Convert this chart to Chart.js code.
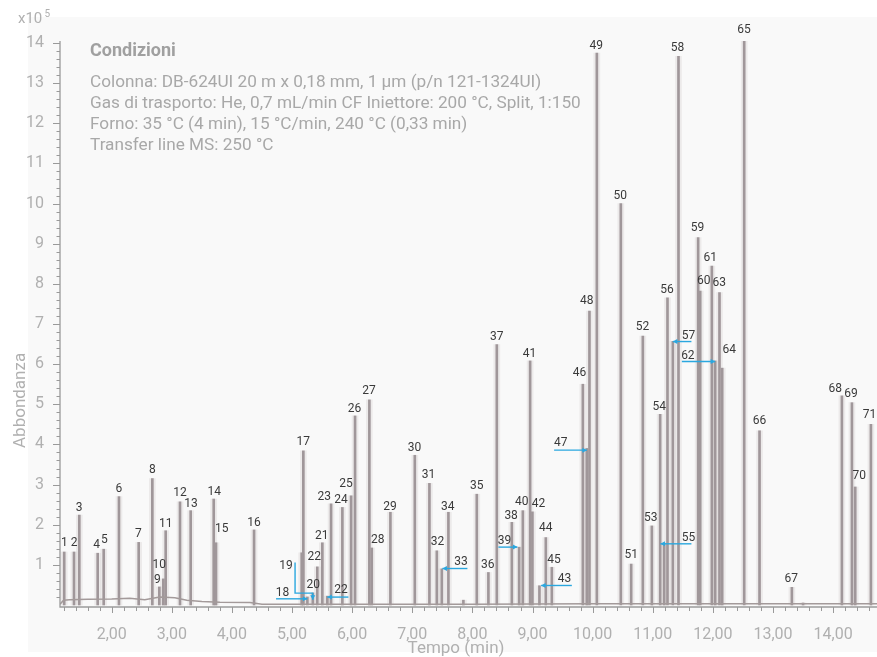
<!DOCTYPE html>
<html><head><meta charset="utf-8">
<script src="https://cdn.jsdelivr.net/npm/chart.js@4/dist/chart.umd.min.js"></script>
<style>html,body{margin:0;padding:0;background:#fff}#wrap{width:877px;height:657px;position:relative}</style>
</head><body><div id="wrap"><canvas id="c"></canvas></div>
<script>
// ---- data ----
const peakTimes = [1.21,1.373,1.461,1.767,1.867,2.121,2.449,2.676,2.792,2.859,2.898,3.136,3.314,3.697,3.735,4.368,
  5.161,5.188,5.255,5.345,5.42,5.504,5.587,5.649,5.837,5.982,6.048,6.286,6.326,6.636,7.042,7.285,7.408,7.491,7.601,7.85,
  8.073,8.266,8.406,8.656,8.777,8.839,8.960,8.998,9.115,9.221,9.321,9.837,9.903,9.947,10.070,10.469,10.641,10.835,10.985,
  11.123,11.190,11.245,11.334,11.428,11.755,11.789,11.983,12.038,12.110,12.155,12.521,12.776,13.314,13.5,14.146,14.313,14.368,14.629];
const peakHeights = [1.32,1.32,2.24,1.29,1.39,2.70,1.56,3.15,0.45,0.65,1.85,2.57,2.35,2.64,1.55,1.87,
  1.3,3.84,0.2,0.3,0.95,1.55,0.22,2.52,2.43,2.72,4.71,5.11,1.42,2.31,3.73,3.03,1.35,0.9,2.31,0.12,
  2.76,0.81,6.49,2.06,1.44,2.35,6.08,2.32,0.48,1.68,0.94,5.50,3.9,7.32,13.75,10.0,1.02,6.70,1.97,
  4.75,1.54,7.65,6.57,13.67,9.15,7.82,8.44,6.08,7.78,5.9,14.12,4.34,0.44,0.05,5.21,5.04,2.94,4.50];
const baseTimes = [1.14,1.2,1.3,1.6,2.0,2.3,2.55,2.8,3.05,3.25,3.5,3.8,4.3,4.5,6.0,8.0,10.0,12.0,14.73];
const baseValues = [0.02,0.12,0.13,0.14,0.15,0.17,0.13,0.2,0.18,0.12,0.09,0.07,0.06,0.02,0.02,0.02,0.03,0.03,0.03];

const labelTexts = ['1','2','3','4','5','6','7','8','9','10','11','12','13','14','15','16','17','18','19','20','21','22','22',
  '23','24','25','26','27','28','29','30','31','32','33','34','35','36','37','38','39','40','41','42','43','44','45','46','47',
  '48','49','50','51','52','53','54','55','56','57','58','59','60','61','62','63','64','65','66','67','68','69','70','71'];
const labelTimes = [1.211,1.373,1.456,1.750,1.877,2.121,2.443,2.676,2.759,2.792,2.899,3.136,3.319,3.707,3.830,4.368,5.188,4.839,4.900,5.354,5.494,5.371,5.815,
  5.537,5.815,5.898,6.037,6.281,6.426,6.631,7.035,7.268,7.418,7.812,7.591,8.073,8.256,8.406,8.644,8.532,8.822,8.948,9.098,9.531,9.221,9.359,9.780,9.471,
  9.903,10.058,10.458,10.641,10.829,10.968,11.106,11.594,11.235,11.594,11.411,11.744,11.850,11.955,11.584,12.105,12.271,12.516,12.775,13.303,14.035,14.296,14.434,14.606];
const labelValues = [1.542,1.542,2.428,1.499,1.624,2.894,1.766,3.367,0.628,1.001,2.022,2.787,2.521,2.812,1.898,2.040,4.072,0.296,0.959,0.503,1.731,1.208,0.379,
  2.687,2.620,3.019,4.879,5.335,1.624,2.453,3.908,3.243,1.567,1.068,2.453,2.969,1.001,6.687,2.222,1.606,2.563,6.257,2.521,0.653,1.930,1.126,5.791,4.032,
  7.577,13.935,10.192,1.233,6.922,2.179,4.944,1.681,7.851,6.712,13.885,9.395,8.075,8.655,6.207,8.032,6.356,14.326,4.588,0.653,5.377,5.260,3.218,4.737];

// arrows: polylines in data units (time, abundance); head at last point
const arrowPaths = [
  [[4.734,0.154],[5.255,0.154]],
  [[5.050,1.059],[5.050,0.296],[5.344,0.296],[5.344,0.130]],
  [[5.937,0.197],[5.587,0.197]],
  [[7.917,0.909],[7.501,0.909]],
  [[8.433,1.442],[8.749,1.442]],
  [[9.654,0.486],[9.143,0.486]],
  [[9.359,3.858],[9.904,3.858]],
  [[11.643,1.524],[11.128,1.524]],
  [[11.643,6.563],[11.334,6.563]],
  [[11.484,6.065],[12.038,6.065]]
];

const xTickValues = [2,3,4,5,6,7,8,9,10,11,12,13,14];
const xTickLabels = ['2,00','3,00','4,00','5,00','6,00','7,00','8,00','9,00','10,00','11,00','12,00','13,00','14,00'];
const yTickValues = [1,2,3,4,5,6,7,8,9,10,11,12,13,14];
const yTickLabels = ['1','2','3','4','5','6','7','8','9','10','11','12','13','14'];

const conditionTitle = 'Condizioni';
const conditionLines = [
  'Colonna: DB-624UI 20 m x 0,18 mm, 1 µm (p/n 121-1324UI)',
  'Gas di trasporto: He, 0,7 mL/min CF Iniettore: 200 °C, Split, 1:150',
  'Forno: 35 °C (4 min), 15 °C/min, 240 °C (0,33 min)',
  'Transfer line MS: 250 °C'
];
const xTitle = 'Tempo (min)';
const yTitle = 'Abbondanza';

// ---- drawing ----
const FONT = 'Roboto, "Noto Sans", sans-serif';
const GRAYTXT = '#b0b0b0';

const decor = {
  id: 'decor',
  beforeDraw(chart) {
    const ctx = chart.ctx;
    ctx.save();
    ctx.fillStyle = '#ffffff';
    ctx.fillRect(0, 0, chart.width, chart.height);
    ctx.fillStyle = '#f9f9f9';
    ctx.fillRect(28, 17, chart.width - 28, 635);
    ctx.restore();
  },
  afterDraw(chart) {
    const ctx = chart.ctx, xs = chart.scales.x, ys = chart.scales.y, a = chart.chartArea;
    ctx.save();
    // axes
    ctx.strokeStyle = '#9a9a9a';
    ctx.lineWidth = 1.3;
    ctx.beginPath();
    ctx.moveTo(a.left, ys.getPixelForValue(14) - 2);
    ctx.lineTo(a.left, a.bottom);
    ctx.lineTo(a.right, a.bottom);
    ctx.stroke();
    ctx.lineWidth = 1;
    ctx.beginPath();
    for (let i = 1; i <= 70; i++) {
      const v = i / 5, y = Math.round(ys.getPixelForValue(v)) + 0.5;
      const len = (i % 5 === 0) ? 7 : 3.5;
      ctx.moveTo(a.left - len, y); ctx.lineTo(a.left, y);
    }
    for (let i = 6; i <= 73; i++) {
      const v = i / 5, x = Math.round(xs.getPixelForValue(v)) + 0.5;
      const len = (i % 5 === 0) ? 6 : 4;
      ctx.moveTo(x, a.bottom); ctx.lineTo(x, a.bottom + len);
    }
    ctx.stroke();

    // x10^5
    ctx.fillStyle = GRAYTXT;
    ctx.textBaseline = 'alphabetic';
    ctx.textAlign = 'left';
    ctx.font = '15px ' + FONT;
    ctx.fillText('x10', 18, 23);
    ctx.font = '10px ' + FONT;
    ctx.fillText('5', 44.5, 17);

    // axis titles
    ctx.font = '17px ' + FONT;
    ctx.textAlign = 'center';
    ctx.fillText(xTitle, 456, 653);
    ctx.save();
    ctx.translate(25, 448);
    ctx.rotate(-Math.PI / 2);
    ctx.textAlign = 'left';
    ctx.fillText(yTitle, 0, 0);
    ctx.restore();

    // conditions box text
    ctx.textAlign = 'left';
    ctx.fillStyle = '#a0a0a0';
    ctx.font = 'bold 18px ' + FONT;
    ctx.fillText(conditionTitle, 90, 56);
    ctx.fillStyle = '#a8a8a8';
    ctx.font = '17.2px ' + FONT;
    conditionLines.forEach((s, i) => ctx.fillText(s, 90, 87 + i * 21));

    // arrows
    ctx.strokeStyle = '#2aa7df';
    ctx.fillStyle = '#2aa7df';
    ctx.lineWidth = 1.4;
    arrowPaths.forEach(p => {
      const pts = p.map(q => [xs.getPixelForValue(q[0]), ys.getPixelForValue(q[1])]);
      ctx.beginPath();
      pts.forEach((q, i) => i ? ctx.lineTo(q[0], q[1]) : ctx.moveTo(q[0], q[1]));
      ctx.stroke();
      const e = pts[pts.length - 1], s = pts[pts.length - 2];
      const ang = Math.atan2(e[1] - s[1], e[0] - s[0]);
      ctx.beginPath();
      ctx.moveTo(e[0], e[1]);
      ctx.lineTo(e[0] - 4.5 * Math.cos(ang) + 2.5 * Math.sin(ang), e[1] - 4.5 * Math.sin(ang) - 2.5 * Math.cos(ang));
      ctx.lineTo(e[0] - 4.5 * Math.cos(ang) - 2.5 * Math.sin(ang), e[1] - 4.5 * Math.sin(ang) + 2.5 * Math.cos(ang));
      ctx.closePath();
      ctx.fill();
    });

    // peak labels
    ctx.fillStyle = '#3a3a3a';
    ctx.font = '12px ' + FONT;
    ctx.textAlign = 'center';
    ctx.textBaseline = 'middle';
    labelTexts.forEach((s, i) => {
      ctx.fillText(s, xs.getPixelForValue(labelTimes[i]), ys.getPixelForValue(labelValues[i]));
    });
    ctx.restore();
  }
};

new Chart(document.getElementById('c'), {
  type: 'bar',
  data: {
    datasets: [
      {
        type: 'bar',
        label: 'picchi (alone)',
        data: peakTimes.map((t, i) => ({ x: t, y: [0, peakHeights[i]] })),
        backgroundColor: 'rgba(190,182,182,0.22)',
        barThickness: 6,
        grouped: false,
        order: 3
      },
      {
        type: 'bar',
        label: 'picchi',
        data: peakTimes.map((t, i) => ({ x: t, y: [0, peakHeights[i]] })),
        backgroundColor: '#a0979a',
        barThickness: 2,
        grouped: false,
        order: 2
      },
      {
        type: 'line',
        label: 'linea di base',
        data: baseTimes.map((t, i) => ({ x: t, y: baseValues[i] })),
        borderColor: '#a39a9a',
        borderWidth: 1.5,
        pointRadius: 0,
        tension: 0,
        order: 1
      }
    ]
  },
  options: {
    responsive: true,
    maintainAspectRatio: false,
    animation: false,
    devicePixelRatio: 1,
    layout: { padding: { top: 41, left: 0, right: 0, bottom: 0 } },
    plugins: { legend: { display: false }, tooltip: { enabled: false }, title: { display: false } },
    scales: {
      x: {
        type: 'linear',
        min: 1.14,
        max: 14.73,
        offset: false,
        grid: { display: false },
        border: { display: false },
        afterBuildTicks: s => { s.ticks = xTickValues.map(v => ({ value: v })); },
        afterFit: s => { s.height = 50; },
        ticks: {
          autoSkip: false, maxRotation: 0, padding: 10,
          color: GRAYTXT, font: { family: FONT, size: 16 },
          callback: (v) => { const k = xTickValues.indexOf(v); return k >= 0 ? xTickLabels[k] : ''; }
        }
      },
      y: {
        type: 'linear',
        min: -0.05,
        max: 14.05,
        grid: { display: false },
        border: { display: false },
        afterBuildTicks: s => { s.ticks = yTickValues.map(v => ({ value: v })); },
        afterFit: s => { s.width = 60; },
        ticks: {
          autoSkip: false, padding: 8,
          color: GRAYTXT, font: { family: FONT, size: 16 },
          callback: (v) => { const k = yTickValues.indexOf(v); return k >= 0 ? yTickLabels[k] : ''; }
        }
      }
    }
  },
  plugins: [decor]
});
</script>
</body></html>
